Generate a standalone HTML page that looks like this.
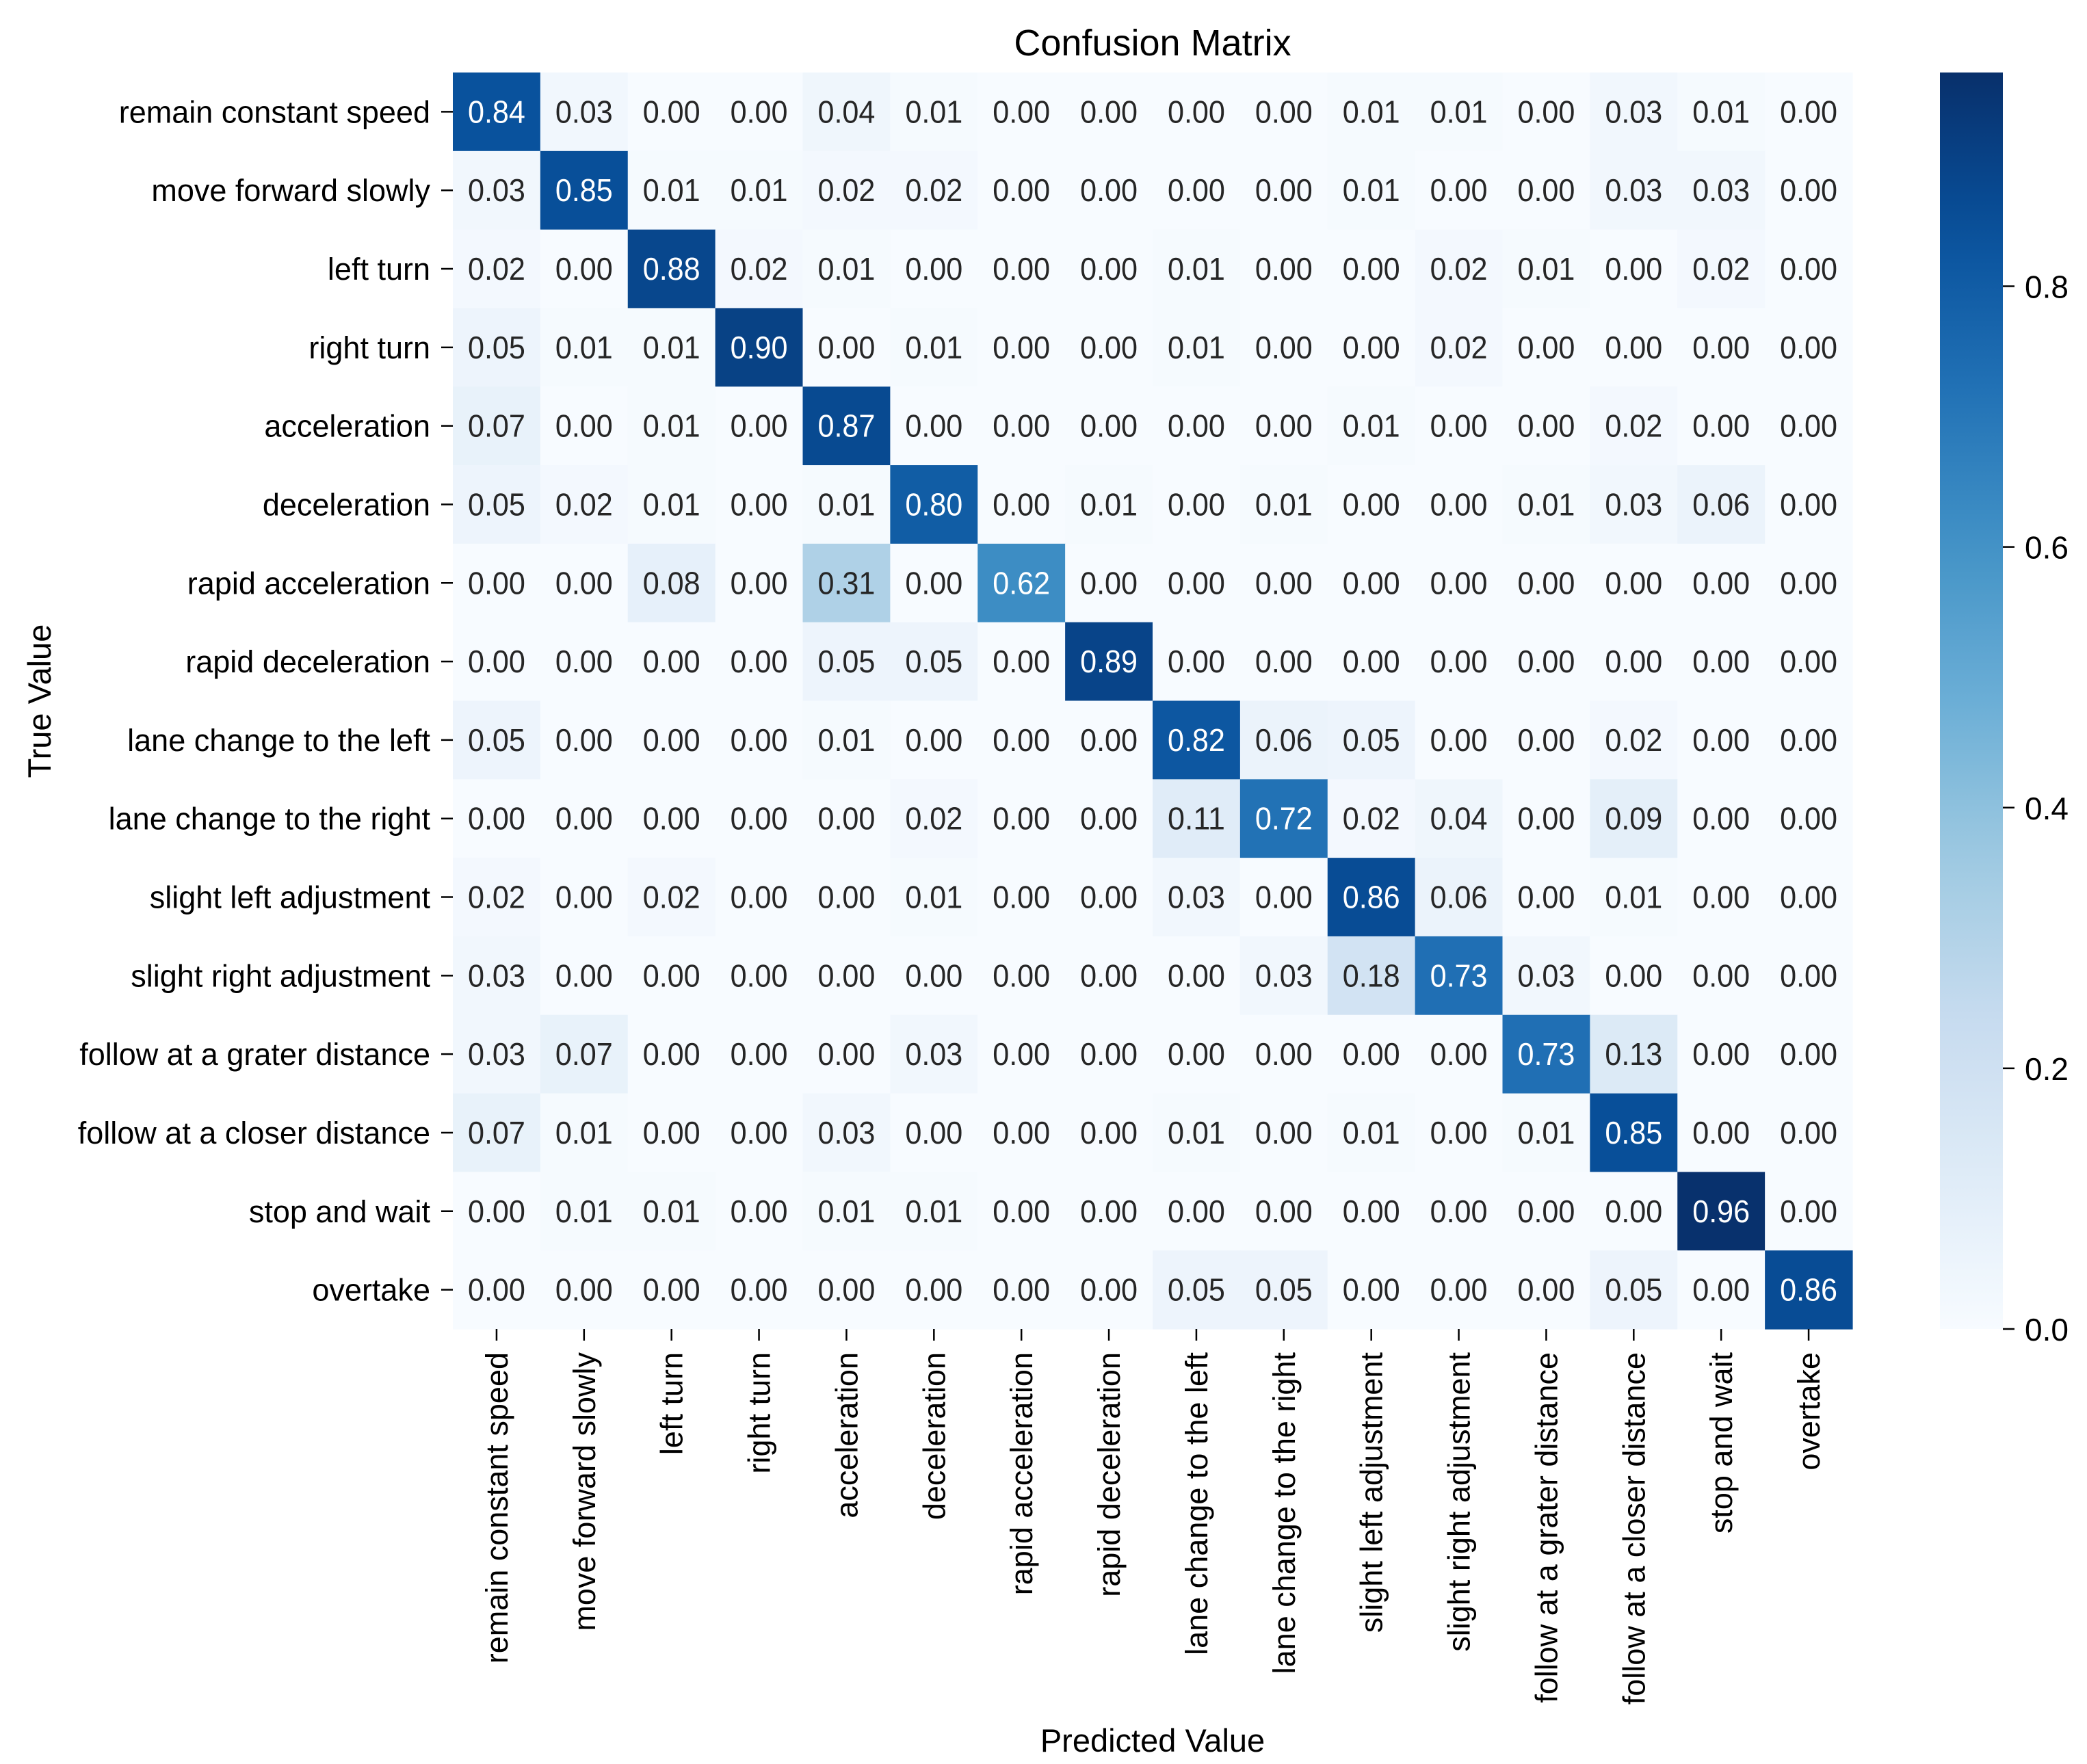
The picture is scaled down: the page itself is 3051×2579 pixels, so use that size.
<!DOCTYPE html>
<html><head><meta charset="utf-8"><title>Confusion Matrix</title>
<style>html,body{margin:0;padding:0;background:#fff;}svg{display:block;font-family:"Liberation Sans",Arial,sans-serif;}</style>
</head><body>
<svg id="chart" width="3051" height="2579" viewBox="0 0 3051 2579" xmlns="http://www.w3.org/2000/svg">
<defs>
<linearGradient id="cbgrad" x1="0" y1="1" x2="0" y2="0"></linearGradient>
</defs>
<text x="1685" y="81" font-size="54" text-anchor="middle" fill="#000">Confusion Matrix</text>
<g id="cells"></g>
<g id="yticks"></g>
<g id="xticks"></g>
<g id="cbar"></g>
<text x="1685" y="2561" font-size="47" text-anchor="middle" fill="#000">Predicted Value</text>
<text transform="translate(74,1025) rotate(-90)" font-size="47" text-anchor="middle" fill="#000">True Value</text>
</svg>
<script>
const categories = ["remain constant speed","move forward slowly","left turn","right turn","acceleration","deceleration","rapid acceleration","rapid deceleration","lane change to the left","lane change to the right","slight left adjustment","slight right adjustment","follow at a grater distance","follow at a closer distance","stop and wait","overtake"];
const row0 = [0.84,0.03,0,0,0.04,0.01,0,0,0,0,0.01,0.01,0,0.03,0.01,0];
const row1 = [0.03,0.85,0.01,0.01,0.02,0.02,0,0,0,0,0.01,0,0,0.03,0.03,0];
const row2 = [0.02,0,0.88,0.02,0.01,0,0,0,0.01,0,0,0.02,0.01,0,0.02,0];
const row3 = [0.05,0.01,0.01,0.90,0,0.01,0,0,0.01,0,0,0.02,0,0,0,0];
const row4 = [0.07,0,0.01,0,0.87,0,0,0,0,0,0.01,0,0,0.02,0,0];
const row5 = [0.05,0.02,0.01,0,0.01,0.80,0,0.01,0,0.01,0,0,0.01,0.03,0.06,0];
const row6 = [0,0,0.08,0,0.31,0,0.62,0,0,0,0,0,0,0,0,0];
const row7 = [0,0,0,0,0.05,0.05,0,0.89,0,0,0,0,0,0,0,0];
const row8 = [0.05,0,0,0,0.01,0,0,0,0.82,0.06,0.05,0,0,0.02,0,0];
const row9 = [0,0,0,0,0,0.02,0,0,0.11,0.72,0.02,0.04,0,0.09,0,0];
const row10 = [0.02,0,0.02,0,0,0.01,0,0,0.03,0,0.86,0.06,0,0.01,0,0];
const row11 = [0.03,0,0,0,0,0,0,0,0,0.03,0.18,0.73,0.03,0,0,0];
const row12 = [0.03,0.07,0,0,0,0.03,0,0,0,0,0,0,0.73,0.13,0,0];
const row13 = [0.07,0.01,0,0,0.03,0,0,0,0.01,0,0.01,0,0.01,0.85,0,0];
const row14 = [0,0.01,0.01,0,0.01,0.01,0,0,0,0,0,0,0,0,0.96,0];
const row15 = [0,0,0,0,0,0,0,0,0.05,0.05,0,0,0,0.05,0,0.86];
const matrix = [row0,row1,row2,row3,row4,row5,row6,row7,row8,row9,row10,row11,row12,row13,row14,row15];
const colorbarTicks = [0.0,0.2,0.4,0.6,0.8];
const vmin = 0, vmax = 0.964;

const NS = "http://www.w3.org/2000/svg";
const L = 662, R = 2708, T = 106, B = 1943;
const n = categories.length;
const cw = (R - L) / n, ch = (B - T) / n;
function xPos(i){ return L + i * cw; }
function yPos(i){ return T + i * ch; }
const CB_L = 2836, CB_R = 2928;
function cbY(v){ return B - (v - vmin) / (vmax - vmin) * (B - T); }

const stops = ["#f7fbff","#deebf7","#c6dbef","#9ecae1","#6baed6","#4292c6","#2171b5","#08519c","#08306b"];
function hex(h){ return [1,3,5].map(k=>parseInt(h.substr(k,2),16)); }
function blues(t){
  t = Math.max(0, Math.min(1, t));
  const p = t * (stops.length - 1), i = Math.min(Math.floor(p), stops.length - 2), f = p - i;
  const a = hex(stops[i]), b = hex(stops[i+1]);
  return a.map((c,k)=>Math.round(c + (b[k]-c)*f));
}
function rgbStr(c){ return "rgb(" + c.join(",") + ")"; }
function lum(c){
  const l = c.map(v=>{ v/=255; return v <= 0.03928 ? v/12.92 : Math.pow((v+0.055)/1.055, 2.4); });
  return 0.2126*l[0] + 0.7152*l[1] + 0.0722*l[2];
}
function mk(tag, attrs, parent){
  const e = document.createElementNS(NS, tag);
  for (const k in attrs) e.setAttribute(k, attrs[k]);
  parent.appendChild(e);
  return e;
}

const cells = document.getElementById("cells");
matrix.forEach((row, r) => {
  row.forEach((v, c) => {
    const col = blues((v - vmin) / (vmax - vmin));
    const rect = mk("rect", {x: xPos(c), y: yPos(r), width: cw + 0.6, height: ch + 0.6, fill: rgbStr(col)}, cells);
    
    
    const t = mk("text", {x: xPos(c) + cw/2, y: yPos(r) + ch/2 + 16, "font-size": 46, "text-anchor": "middle",
      fill: lum(col) > 0.408 ? "#262626" : "#ffffff", textLength: 84, lengthAdjust: "spacingAndGlyphs"}, cells);
    
    
    t.textContent = v.toFixed(2);
  });
});

const yt = document.getElementById("yticks");
categories.forEach((name, i) => {
  const cy = yPos(i) + ch/2;
  const tk = mk("line", {x1: 645, x2: L, y1: cy, y2: cy, stroke: "#000", "stroke-width": 2.5}, yt);
  
  
  const t = mk("text", {x: 629, y: cy + 16, "font-size": 45, "text-anchor": "end", fill: "#000"}, yt);
  
  
  t.textContent = name;
});

const xt = document.getElementById("xticks");
categories.forEach((name, i) => {
  const cx = xPos(i) + cw/2;
  const tk = mk("line", {x1: cx, x2: cx, y1: B, y2: B + 17, stroke: "#000", "stroke-width": 2.5}, xt);
  
  
  const t = mk("text", {transform: "translate(" + (cx + 16) + "," + (B + 34) + ") rotate(-90)", "font-size": 45, "text-anchor": "end", fill: "#000"}, xt);
  
  
  t.textContent = name;
});

const grad = document.getElementById("cbgrad");
for (let k = 0; k <= 20; k++) {
  mk("stop", {offset: (k/20), "stop-color": rgbStr(blues(k/20))}, grad);
}
const cb = document.getElementById("cbar");
const cbr = mk("rect", {x: CB_L, y: T, width: CB_R - CB_L, height: B - T, fill: "url(#cbgrad)"}, cb);


colorbarTicks.forEach(v => {
  const y = cbY(v);
  const tk = mk("line", {x1: CB_R, x2: CB_R + 17, y1: y, y2: y, stroke: "#000", "stroke-width": 2.5}, cb);
  
  
  const t = mk("text", {x: 2960, y: y + 17, "font-size": 46, fill: "#000"}, cb);
  
  
  t.textContent = v.toFixed(1);
});
</script>
</body></html>
